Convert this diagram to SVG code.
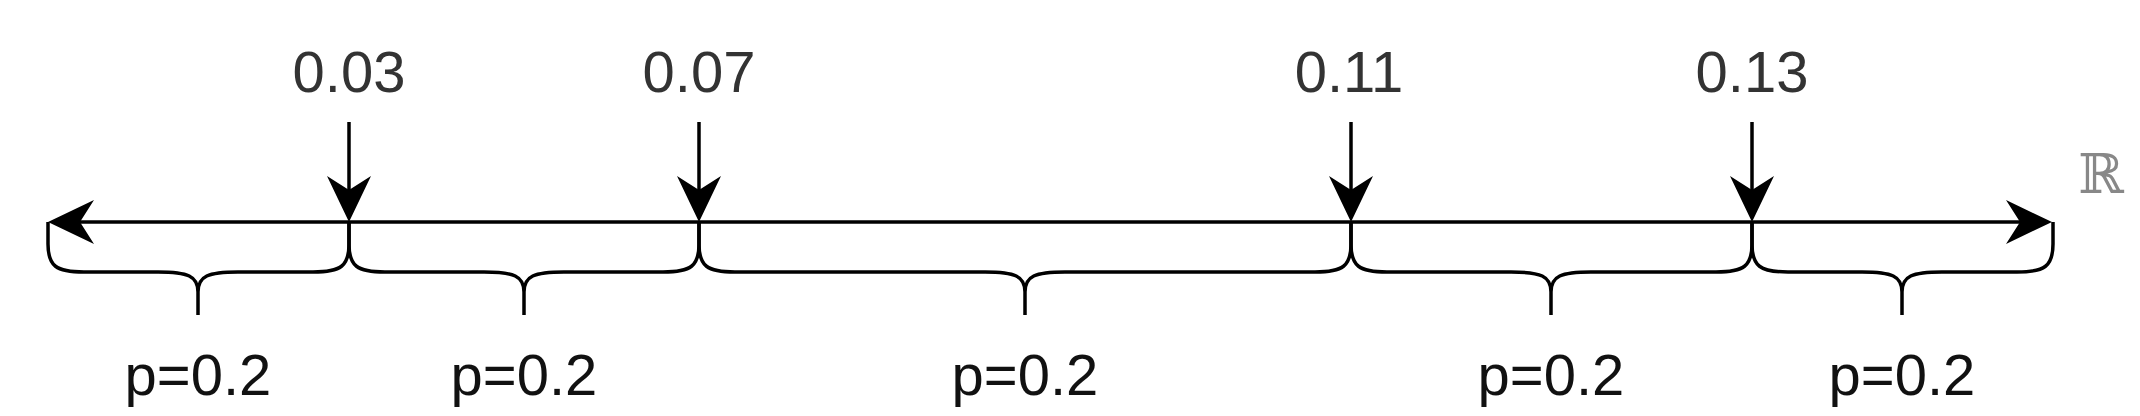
<svg xmlns="http://www.w3.org/2000/svg" width="2140" height="416" viewBox="0 0 2140 416">
<style>
.ax{fill:none;stroke:#000;stroke-width:3.5}
.br{fill:none;stroke:#000;stroke-width:3.5;stroke-linejoin:round}
.tl{font-family:"Liberation Sans",Arial,sans-serif;font-size:58px;fill:#333;text-anchor:middle}
.pl{font-family:"Liberation Sans",Arial,sans-serif;font-size:58px;fill:#111;text-anchor:middle}
.rr{font-family:"DejaVu Serif",serif;font-size:55px;fill:#888;text-anchor:middle}
</style>
<defs>
<marker id="ah" viewBox="0 0 46 44" refX="14" refY="22" markerWidth="46" markerHeight="44" orient="auto-start-reverse" markerUnits="userSpaceOnUse">
<path d="M0,0 L46,22 L0,44 L14,22 Z" fill="#000"/>
</marker>
</defs>
<rect width="2140" height="416" fill="#fff"/>
<g id="connectors">
<path class="ax" d="M80,222 L2020,222" marker-start="url(#ah)" marker-end="url(#ah)"/>
<path class="ax" d="M349,122 L349,190" marker-end="url(#ah)"/>
<path class="ax" d="M699,122 L699,190" marker-end="url(#ah)"/>
<path class="ax" d="M1351,122 L1351,190" marker-end="url(#ah)"/>
<path class="ax" d="M1752,122 L1752,190" marker-end="url(#ah)"/>
</g>
<g id="tick-003"><text class="tl" x="349" y="92">0.03</text></g>
<g id="tick-007"><text class="tl" x="699" y="92">0.07</text></g>
<g id="tick-011"><text class="tl" x="1349" y="92">0.11</text></g>
<g id="tick-013"><text class="tl" x="1752" y="92">0.13</text></g>
<g id="axis-label"><text class="rr" x="2101" y="193">ℝ</text></g>
<g id="brace-1">
<path class="br" d="M48,222 L48,244 C48,266 56,272 84,272 L158,272 C188,272 198,276 198,292 L198,315 M198,292 C198,276 208,272 238,272 L313,272 C341,272 349,266 349,244 L349,222"/>
<text class="pl" x="198" y="395">p=0.2</text>
</g>
<g id="brace-2">
<path class="br" d="M349,222 L349,244 C349,266 357,272 385,272 L484,272 C514,272 524,276 524,292 L524,315 M524,292 C524,276 534,272 564,272 L663,272 C691,272 699,266 699,244 L699,222"/>
<text class="pl" x="524" y="395">p=0.2</text>
</g>
<g id="brace-3">
<path class="br" d="M699,222 L699,244 C699,266 707,272 735,272 L985,272 C1015,272 1025,276 1025,292 L1025,315 M1025,292 C1025,276 1035,272 1065,272 L1315,272 C1343,272 1351,266 1351,244 L1351,222"/>
<text class="pl" x="1025" y="395">p=0.2</text>
</g>
<g id="brace-4">
<path class="br" d="M1351,222 L1351,244 C1351,266 1359,272 1387,272 L1511,272 C1541,272 1551,276 1551,292 L1551,315 M1551,292 C1551,276 1561,272 1591,272 L1716,272 C1744,272 1752,266 1752,244 L1752,222"/>
<text class="pl" x="1551" y="395">p=0.2</text>
</g>
<g id="brace-5">
<path class="br" d="M1752,222 L1752,244 C1752,266 1760,272 1788,272 L1862,272 C1892,272 1902,276 1902,292 L1902,315 M1902,292 C1902,276 1912,272 1942,272 L2017,272 C2045,272 2053,266 2053,244 L2053,222"/>
<text class="pl" x="1902" y="395">p=0.2</text>
</g>
</svg>
